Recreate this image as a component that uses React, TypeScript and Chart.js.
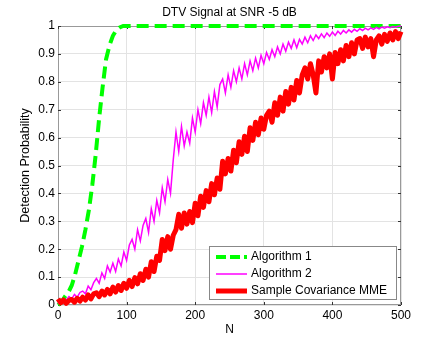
import { useEffect, useRef } from 'react';
import { Chart, registerables } from 'chart.js';
Chart.register(...registerables);

const chartTitle = 'DTV Signal at SNR -5 dB';
const xLabel = 'N';
const yLabel = 'Detection Probability';
const seriesNames = ['Algorithm 1', 'Algorithm 2', 'Sample Covariance MME'];
const seriesColors = ['#00ff00', '#ff00ff', '#ff0000'];

const nAlg1 = [0, 5, 10, 15, 20, 25, 30, 35, 40, 45, 50, 55, 60, 65, 70, 75, 80, 85, 90, 95, 100, 500];
const alg1 = [0, 0.01, 0.03, 0.045, 0.07, 0.11, 0.16, 0.21, 0.27, 0.34, 0.43, 0.54, 0.67, 0.78, 0.88, 0.93, 0.965, 0.985, 0.995, 1, 1, 1];

const nValues = [
  0, 4, 8, 12, 16, 20, 24, 28, 32, 36,
  40, 44, 48, 52, 56, 60, 64, 68, 72, 76,
  80, 84, 88, 92, 96, 100, 104, 108, 112, 116,
  120, 124, 128, 132, 136, 140, 144, 148, 152, 156,
  160, 164, 168, 172, 176, 180, 184, 188, 192, 196,
  200, 204, 208, 212, 216, 220, 224, 228, 232, 236,
  240, 244, 248, 252, 256, 260, 264, 268, 272, 276,
  280, 284, 288, 292, 296, 300, 304, 308, 312, 316,
  320, 324, 328, 332, 336, 340, 344, 348, 352, 356,
  360, 364, 368, 372, 376, 380, 384, 388, 392, 396,
  400, 404, 408, 412, 416, 420, 424, 428, 432, 436,
  440, 444, 448, 452, 456, 460, 464, 468, 472, 476,
  480, 484, 488, 492, 496, 500,
];

const alg2 = [
  0.005, 0.012, 0.02, 0.018, 0.03, 0.022, 0.038, 0.028, 0.045, 0.05,
  0.04, 0.068, 0.055, 0.08, 0.095, 0.078, 0.115, 0.095, 0.14, 0.118,
  0.15, 0.12, 0.165, 0.14, 0.19, 0.16, 0.215, 0.235, 0.2, 0.27,
  0.23, 0.285, 0.31, 0.26, 0.345, 0.3, 0.375, 0.33, 0.42, 0.37,
  0.45, 0.4, 0.52, 0.62, 0.55, 0.64, 0.57, 0.62, 0.58, 0.67,
  0.62, 0.7, 0.65, 0.725, 0.68, 0.745, 0.69, 0.765, 0.71, 0.79,
  0.81, 0.76, 0.825, 0.78, 0.84, 0.8, 0.85, 0.81, 0.865, 0.825,
  0.875, 0.84, 0.885, 0.85, 0.895, 0.865, 0.905, 0.88, 0.915, 0.89,
  0.925, 0.9, 0.935, 0.91, 0.942, 0.92, 0.95, 0.922, 0.952, 0.935,
  0.96, 0.94, 0.965, 0.948, 0.968, 0.955, 0.972, 0.958, 0.975, 0.963,
  0.978, 0.966, 0.981, 0.971, 0.984, 0.975, 0.986, 0.978, 0.988, 0.981,
  0.99, 0.984, 0.992, 0.986, 0.993, 0.988, 0.995, 0.99, 0.996, 0.992,
  0.997, 0.994, 0.998, 0.996, 0.999, 1.0,
];

const mme = [
  0.022, 0.008, 0.018, 0.006, 0.016, 0.02, 0.01, 0.024, 0.014, 0.028,
  0.018, 0.036, 0.022, 0.04, 0.044, 0.03, 0.05, 0.036, 0.056, 0.04,
  0.064, 0.046, 0.07, 0.052, 0.078, 0.06, 0.088, 0.066, 0.098, 0.076,
  0.112, 0.088, 0.128, 0.1, 0.155, 0.12, 0.175, 0.16, 0.235, 0.195,
  0.245, 0.2, 0.25, 0.27, 0.325, 0.275, 0.33, 0.29, 0.335, 0.295,
  0.365, 0.32, 0.39, 0.35, 0.41, 0.37, 0.435, 0.395, 0.455, 0.415,
  0.515, 0.47, 0.525, 0.48, 0.555, 0.51, 0.585, 0.54, 0.605, 0.55,
  0.635, 0.59, 0.655, 0.61, 0.67, 0.63, 0.68, 0.695, 0.655, 0.725,
  0.68, 0.745, 0.695, 0.765, 0.72, 0.78, 0.735, 0.805, 0.76, 0.825,
  0.85, 0.81, 0.865, 0.825, 0.76, 0.875, 0.835, 0.89, 0.85, 0.9,
  0.81, 0.905, 0.865, 0.915, 0.875, 0.93, 0.89, 0.94, 0.9, 0.95,
  0.955, 0.92, 0.96, 0.925, 0.955, 0.89, 0.95, 0.965, 0.935, 0.97,
  0.945, 0.975, 0.95, 0.98, 0.955, 0.98,
];

const FONT = '"Liberation Sans", Arial, sans-serif';

const decorPlugin = {
  id: 'decor',
  beforeDatasetsDraw(chart: any) {
    const { ctx, chartArea: a, scales } = chart;
    ctx.save();
    ctx.strokeStyle = '#999999';
    ctx.lineWidth = 1;
    ctx.strokeRect(a.left + 0.5, a.top + 0.5, a.right - a.left - 1, a.bottom - a.top - 1);
    ctx.strokeStyle = '#333333';
    const tl = 3;
    scales.x.ticks.forEach((t: any) => {
      const px = Math.round(scales.x.getPixelForValue(t.value)) + 0.5;
      ctx.beginPath();
      ctx.moveTo(px, a.bottom); ctx.lineTo(px, a.bottom - tl);
      ctx.moveTo(px, a.top); ctx.lineTo(px, a.top + tl);
      ctx.stroke();
    });
    scales.y.ticks.forEach((t: any) => {
      const py = Math.round(scales.y.getPixelForValue(t.value)) + 0.5;
      ctx.beginPath();
      ctx.moveTo(a.left, py); ctx.lineTo(a.left + tl, py);
      ctx.moveTo(a.right, py); ctx.lineTo(a.right - tl, py);
      ctx.stroke();
    });
    ctx.restore();
  },
  afterDraw(chart: any) {
    const { ctx, chartArea: a } = chart;
    ctx.save();
    ctx.fillStyle = '#000';
    ctx.font = `12px ${FONT}`;
    ctx.textAlign = 'center';
    ctx.textBaseline = 'middle';
    const cx = (a.left + a.right) / 2;
    ctx.fillText(chartTitle, cx, 13);
    ctx.fillText(xLabel, cx, 330);
    ctx.save();
    ctx.translate(26, (a.top + a.bottom) / 2);
    ctx.rotate(-Math.PI / 2);
    ctx.font = `12.5px ${FONT}`;
    ctx.fillText(yLabel, 0, 0);
    ctx.restore();

    // legend
    const lx = 209, ly = 246, lw = 188, lh = 54;
    ctx.fillStyle = '#ffffff';
    ctx.fillRect(lx, ly, lw, lh);
    ctx.strokeStyle = '#888888';
    ctx.lineWidth = 1;
    ctx.strokeRect(lx + 0.5, ly + 0.5, lw - 1, lh - 1);
    const rows = [257, 274, 291];
    const widths = [4, 1.5, 5];
    const dashes = [[10, 4], [], []];
    rows.forEach((ry, i) => {
      ctx.strokeStyle = seriesColors[i];
      ctx.lineWidth = widths[i];
      ctx.setLineDash(dashes[i]);
      ctx.beginPath();
      ctx.moveTo(216, ry);
      ctx.lineTo(247, ry);
      ctx.stroke();
      ctx.setLineDash([]);
      ctx.fillStyle = '#000';
      ctx.textAlign = 'left';
      ctx.fillText(seriesNames[i], 251, ry);
    });
    ctx.restore();
  },
};

export default function App() {
  const ref = useRef<HTMLCanvasElement>(null);
  useEffect(() => {
    document.body.style.margin = '0';
    const toXY = (xs: number[], arr: number[]) => arr.map((v, i) => ({ x: xs[i], y: v }));
    const chart = new Chart(ref.current!, {
      type: 'line',
      data: {
        datasets: [
          {
            label: seriesNames[0], data: toXY(nAlg1, alg1), borderColor: seriesColors[0], borderWidth: 4,
            borderDash: [12, 6], pointRadius: 0, tension: 0, order: 2, clip: false,
          },
          {
            label: seriesNames[1], data: toXY(nValues, alg2), borderColor: seriesColors[1], borderWidth: 1.5,
            pointRadius: 0, tension: 0, order: 1, clip: false,
          },
          {
            label: seriesNames[2], data: toXY(nValues, mme), borderColor: seriesColors[2], borderWidth: 5,
            borderJoinStyle: 'round', pointRadius: 0, tension: 0, order: 0, clip: false,
          },
        ],
      },
      options: {
        animation: false,
        responsive: false,
        maintainAspectRatio: false,
        layout: { padding: { left: 0, right: 42, top: 26, bottom: 0 } },
        plugins: { legend: { display: false }, title: { display: false }, tooltip: { enabled: false } },
        scales: {
          x: {
            type: 'linear', min: 0, max: 500,
            ticks: { stepSize: 100, color: '#000', padding: 3, font: { family: FONT, size: 12 }, maxRotation: 0 },
            grid: { color: '#e3e3e3', drawTicks: false },
            border: { display: false },
            afterFit: (s: any) => { s.height = 37; },
          },
          y: {
            type: 'linear', min: 0, max: 1,
            ticks: { stepSize: 0.1, color: '#000', padding: 3, font: { family: FONT, size: 12 },
              callback: (v: any) => String(Math.round(Number(v) * 10) / 10) },
            grid: { color: '#e3e3e3', drawTicks: false },
            border: { display: false },
            afterFit: (s: any) => { s.width = 58; },
          },
        },
      },
      plugins: [decorPlugin],
    });
    return () => chart.destroy();
  }, []);
  return (
    <div style={{ position: 'absolute', left: 0, top: 0, width: 443, height: 342, background: '#fff' }}>
      <canvas ref={ref} width={443} height={342} style={{ width: 443, height: 342 }} />
    </div>
  );
}
